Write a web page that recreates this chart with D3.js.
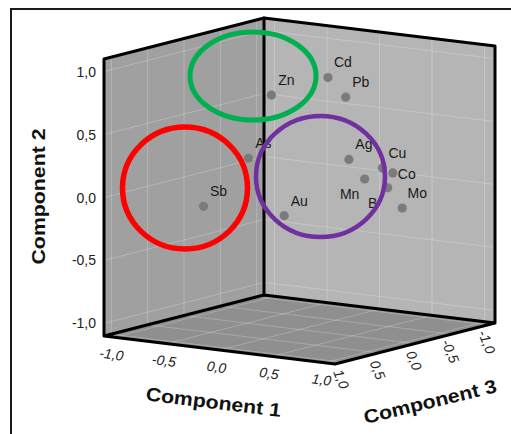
<!DOCTYPE html>
<html><head><meta charset="utf-8">
<script src="https://cdn.jsdelivr.net/npm/d3@7/dist/d3.min.js"></script>
<style>html,body{margin:0;padding:0;background:#fff;} svg{display:block;}</style>
</head><body><svg id="c" width="511" height="434"></svg>
<script>
// ---- data (PCA loadings) ----
const names = ["Zn","Cd","Pb","As","Sb","Au","Ag","Cu","Co","Mn","B","Mo"];
const comp1 = [-0.06, 0.34, 0.44, -0.14, -0.36, 0.27, 0.54, 0.72, 0.75, 0.69, 0.84, 0.84];
const comp2 = [ 0.80, 0.95, 0.79,  0.32, -0.04, -0.08, 0.32, 0.24, 0.19, 0.18, 0.11, -0.08];
const comp3 = [ 0.30, 0.10, 0.00,  0.50,  0.80, 0.60, 0.10, -0.10, -0.20, 0.10, 0.00, -0.20];
const tickValues = [-1.0, -0.5, 0.0, 0.5, 1.0];
const tickLabels = ["-1,0", "-0,5", "0,0", "0,5", "1,0"];
const axisTitles = ["Component 1", "Component 2", "Component 3"];
const axisDomain = [-1.1, 1.1];

// label placement hints (style)
const labelSide = ["ur","ur","ur","ur","ur","ur","ur","ur","r","ll","ll","ur"];

// ---- projection built from linear scales ----
const svg = d3.select("#c");
const origin = [264, 295];             // (min,min,min) corner on screen
const xVec = [231, 28], zVec = [-160, 41], yVec = [0, -277];
const sx = d3.scaleLinear().domain(axisDomain).range([0, 1]);
const sy = d3.scaleLinear().domain(axisDomain).range([0, 1]);
const sz = d3.scaleLinear().domain(axisDomain).range([0, 1]);
function P(a, b, c) {
  const u = sx(a), v = sy(b), w = sz(c);
  return [origin[0] + u * xVec[0] + w * zVec[0] + v * yVec[0],
          origin[1] + u * xVec[1] + w * zVec[1] + v * yVec[1]];
}
const lo = axisDomain[0], hi = axisDomain[1];
const poly = pts => "M" + pts.map(p => p.join(",")).join("L") + "Z";
const line = d3.line();

// frame
svg.append("rect").attr("x", 11).attr("y", 9).attr("width", 620).attr("height", 620)
  .attr("fill", "none").attr("stroke", "#1a1a1a").attr("stroke-width", 2);

// walls and floor
svg.append("path").attr("d", poly([P(lo,lo,lo), P(lo,hi,lo), P(lo,hi,hi), P(lo,lo,hi)])).attr("fill", "#a0a0a0");
svg.append("path").attr("d", poly([P(lo,lo,lo), P(lo,hi,lo), P(hi,hi,lo), P(hi,lo,lo)])).attr("fill", "#b5b5b5");
svg.append("path").attr("d", poly([P(lo,lo,lo), P(hi,lo,lo), P(hi,lo,hi), P(lo,lo,hi)])).attr("fill", "#8f8f8f");

// gridlines
const grid = svg.append("g").attr("stroke", "#ffffff").attr("stroke-opacity", 0.22).attr("stroke-width", 1).attr("fill", "none");
tickValues.forEach(t => {
  grid.append("path").attr("d", line([P(lo,lo,t), P(lo,hi,t)]));   // left wall, z const
  grid.append("path").attr("d", line([P(lo,t,lo), P(lo,t,hi)]));   // left wall, y const
  grid.append("path").attr("d", line([P(t,lo,lo), P(t,hi,lo)]));   // right wall, x const
  grid.append("path").attr("d", line([P(lo,t,lo), P(hi,t,lo)]));   // right wall, y const
  grid.append("path").attr("d", line([P(t,lo,lo), P(t,lo,hi)]));   // floor, x const
  grid.append("path").attr("d", line([P(lo,lo,t), P(hi,lo,t)]));   // floor, z const
});

// box edges
const edges = svg.append("g").attr("stroke", "#000").attr("stroke-width", 3).attr("fill", "none")
  .attr("stroke-linejoin", "round").attr("stroke-linecap", "round");
edges.append("path").attr("d", line([P(lo,lo,hi), P(lo,hi,hi), P(lo,hi,lo), P(hi,hi,lo), P(hi,lo,lo), P(hi,lo,hi), P(lo,lo,hi), P(lo,lo,lo), P(hi,lo,lo)]));
edges.append("path").attr("d", line([P(lo,lo,lo), P(lo,hi,lo)]));

// tick labels
const tickFont = "'Liberation Sans', Arial, sans-serif";
tickValues.forEach((t, i) => {
  const py = P(lo, t, hi);
  svg.append("text").attr("x", py[0] - 8).attr("y", py[1] + 5).attr("text-anchor", "end")
    .attr("font-family", tickFont).attr("font-size", 14).attr("fill", "#222").text(tickLabels[i]);
  const px = P(t, lo, hi);
  svg.append("text").attr("transform", `translate(${px[0] - 3},${px[1] + 17}) rotate(8)`)
    .attr("text-anchor", "middle").attr("dy", "0.35em").attr("font-style", "italic")
    .attr("font-family", tickFont).attr("font-size", 14).attr("fill", "#222").text(tickLabels[i]);
  const pz = P(hi, lo, t);
  svg.append("text").attr("transform", `translate(${pz[0] - 1},${pz[1] + 17}) rotate(68)`)
    .attr("text-anchor", "middle").attr("dy", "0.35em").attr("font-style", "italic")
    .attr("font-family", tickFont).attr("font-size", 14).attr("fill", "#222").text(tickLabels[i]);
});

// axis titles
const titleFont = "'Liberation Sans', Arial, sans-serif";
function title(txt, x, y, ang) {
  svg.append("text").attr("transform", `translate(${x},${y}) rotate(${ang})`)
    .attr("text-anchor", "middle").attr("dy", "0.35em")
    .attr("font-family", titleFont).attr("font-weight", "bold").attr("font-size", 19)
    .attr("textLength", 136).attr("lengthAdjust", "spacingAndGlyphs")
    .attr("fill", "#111").text(txt);
}
const f1 = P(0, lo, hi);
title(axisTitles[0], f1[0] - 6, f1[1] + 52, 7);
title(axisTitles[1], 38, P(lo, 0, hi)[1] - 1, -90);
const f3 = P(hi, lo, 0);
title(axisTitles[2], f3[0] + 15, f3[1] + 58, -13.6);

// points
const pts = names.map((n, i) => ({ n, p: P(comp1[i], comp2[i], comp3[i]), side: labelSide[i] }));
svg.append("g").selectAll("circle").data(pts).join("circle")
  .attr("cx", d => d.p[0]).attr("cy", d => d.p[1]).attr("r", 4.6).attr("fill", "#7b7b7b");
const off = { ur: [15, -15], ll: [-15, 15], r: [14, 1] };
svg.append("g").selectAll("text").data(pts).join("text")
  .attr("x", d => d.p[0] + off[d.side][0]).attr("y", d => d.p[1] + off[d.side][1])
  .attr("dy", "0.35em").attr("text-anchor", "middle")
  .attr("font-family", tickFont).attr("font-size", 14).attr("fill", "#1a1a1a").text(d => d.n);

// annotation ellipses (hand-drawn overlay)
const annotations = [
  { cx: 253, cy: 76, rx: 63, ry: 44, color: "#00b050", w: 5 },
  { cx: 185, cy: 188, rx: 62.5, ry: 61, color: "#ff0000", w: 5.5 },
  { cx: 320.5, cy: 176.5, rx: 64.5, ry: 60.5, color: "#7030a0", w: 4.5 }
];
svg.append("g").selectAll("ellipse").data(annotations).join("ellipse")
  .attr("cx", d => d.cx).attr("cy", d => d.cy).attr("rx", d => d.rx).attr("ry", d => d.ry)
  .attr("fill", "none").attr("stroke", d => d.color).attr("stroke-width", d => d.w);
</script>
</body></html>
